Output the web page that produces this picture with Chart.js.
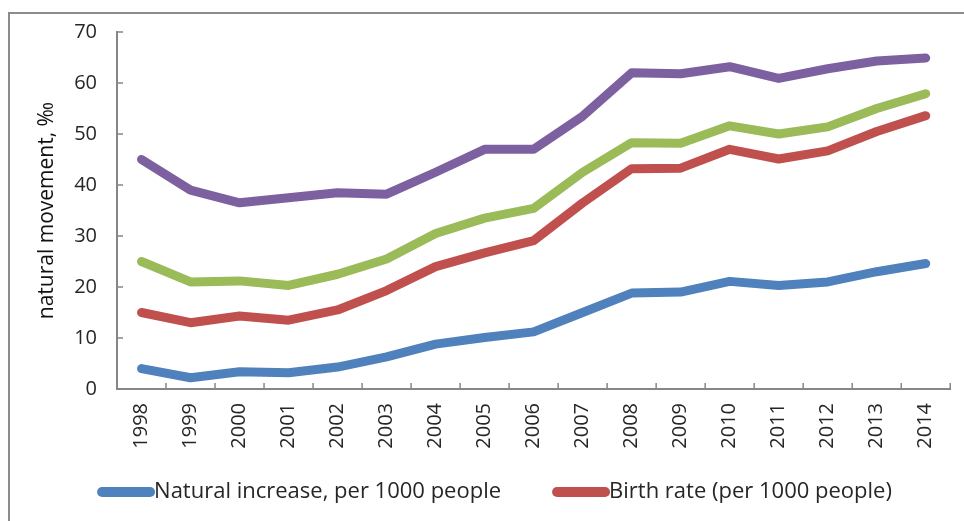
<!DOCTYPE html>
<html>
<head>
<meta charset="utf-8">
<script src="https://cdn.jsdelivr.net/npm/chart.js@4.4.1/dist/chart.umd.min.js"></script>
<style>
  html, body { margin: 0; padding: 0; background: #fff; overflow: hidden; }
  #frame {
    position: absolute; left: 8px; top: 12px; width: 1000px; height: 600px;
    border-left: 2px solid #8c8c8c; border-top: 2px solid #8c8c8c;
  }
  #wrap { position: absolute; left: 0; top: 0; width: 964px; height: 521px; }
</style>
</head>
<body>
<div id="frame"></div>
<div id="wrap"><canvas id="chart"></canvas></div>
<script>
// Data
const years = ['1998', '1999', '2000', '2001', '2002', '2003', '2004', '2005', '2006',
               '2007', '2008', '2009', '2010', '2011', '2012', '2013', '2014'];
const naturalIncrease = [4, 2.2, 3.4, 3.2, 4.3, 6.3, 8.8, 10.1, 11.2, 15, 18.8, 19, 21.1, 20.3, 21, 23, 24.6];
const birthRate = [15, 13, 14.3, 13.5, 15.5, 19.3, 24, 26.7, 29.1, 36.5, 43.2, 43.3, 47, 45.1, 46.7, 50.5, 53.6];
const greenSeries = [25, 21, 21.2, 20.3, 22.5, 25.5, 30.5, 33.5, 35.4, 42.5, 48.3, 48.2, 51.6, 50, 51.4, 55, 57.9];
const purpleSeries = [45, 39, 36.5, 37.5, 38.5, 38.2, 42.5, 47, 47, 53.5, 62, 61.8, 63.2, 60.9, 62.8, 64.3, 64.9];
const yTicks = [0, 10, 20, 30, 40, 50, 60, 70];

const FONT = "'Open Sans', 'DejaVu Sans', sans-serif";
const AXIS_COLOR = '#868686';
const TEXT_COLOR = '#262626';

function lineSet(label, data, color) {
    return {
        label: label,
        data: data,
        borderColor: color,
        backgroundColor: color,
        borderWidth: 9,
        borderCapStyle: 'round',
        borderJoinStyle: 'round',
        pointRadius: 0,
        fill: false,
        tension: 0
    };
}

// small inward tick marks like the original
const innerTicks = {
    id: 'innerTicks',
    beforeDatasetsDraw(chart) {
        const ctx = chart.ctx;
        const x = chart.scales.x;
        const y = chart.scales.y;
        ctx.save();
        ctx.strokeStyle = AXIS_COLOR;
        ctx.lineWidth = 1.5;
        const half = (x.getPixelForValue(1) - x.getPixelForValue(0)) / 2;
        for (let i = 0; i <= years.length; i++) {
            const px = x.getPixelForValue(i) - half;
            ctx.beginPath();
            ctx.moveTo(px, x.top);
            ctx.lineTo(px, x.top - 6);
            ctx.stroke();
        }
        yTicks.forEach(v => {
            const py = y.getPixelForValue(v);
            ctx.beginPath();
            ctx.moveTo(y.right, py);
            ctx.lineTo(y.right + 6, py);
            ctx.stroke();
        });
        ctx.restore();
    }
};

// legend with only the first two series, wide gap between items
const bottomLegend = {
    id: 'bottomLegend',
    afterDraw(chart) {
        const ctx = chart.ctx;
        const items = chart.data.datasets.slice(0, 2);
        const lineLen = 48, gap = 50;
        ctx.save();
        ctx.font = '22px ' + FONT;
        ctx.textBaseline = 'middle';
        const widths = items.map(d => ctx.measureText(d.label).width);
        const total = widths.reduce((a, w) => a + w + lineLen + 10, 0) + gap;
        let cx = chart.width / 2 + 13 - total / 2;
        const cy = 492;
        items.forEach((d, i) => {
            ctx.strokeStyle = d.borderColor;
            ctx.lineWidth = 10;
            ctx.lineCap = 'round';
            ctx.beginPath();
            ctx.moveTo(cx + 5, cy);
            ctx.lineTo(cx + 5 + lineLen, cy);
            ctx.stroke();
            ctx.fillStyle = TEXT_COLOR;
            ctx.fillText(d.label, cx + lineLen + 9, cy);
            cx += lineLen + 10 + widths[i] + gap;
        });
        ctx.restore();
    }
};

new Chart(document.getElementById('chart'), {
    type: 'line',
    data: {
        labels: years,
        datasets: [
            lineSet('Natural increase, per 1000 people', naturalIncrease, '#4F81BD'),
            lineSet('Birth rate (per 1000 people)', birthRate, '#C0504D'),
            lineSet('Series 3', greenSeries, '#9BBB59'),
            lineSet('Series 4', purpleSeries, '#7D60A0')
        ]
    },
    options: {
        responsive: true,
        maintainAspectRatio: false,
        animation: false,
        layout: { padding: { left: 0, right: 9, top: 31, bottom: 50 } },
        plugins: {
            tooltip: { enabled: false },
            legend: { display: false }
        },
        scales: {
            x: {
                offset: true,
                grid: { display: true, drawOnChartArea: false, drawTicks: false },
                border: { color: AXIS_COLOR, width: 2 },
                ticks: {
                    minRotation: 90, maxRotation: 90, padding: 14,
                    color: TEXT_COLOR, font: { family: FONT, size: 20 }
                },
                afterFit: scale => { scale.height = 82; }
            },
            y: {
                min: 0, max: 70,
                afterBuildTicks: scale => { scale.ticks = yTicks.map(v => ({ value: v })); },
                grid: { display: true, drawOnChartArea: false, drawTicks: false },
                border: { color: AXIS_COLOR, width: 2 },
                ticks: {
                    padding: 20, color: TEXT_COLOR,
                    font: { family: FONT, size: 20 }
                },
                title: {
                    display: true,
                    text: 'natural movement, ‰',
                    color: '#111',
                    padding: { top: 34, bottom: 0 },
                    font: { family: FONT, size: 21 }
                },
                afterFit: scale => { scale.width = 117; }
            }
        }
    },
    plugins: [innerTicks, bottomLegend]
});
</script>
</body>
</html>
